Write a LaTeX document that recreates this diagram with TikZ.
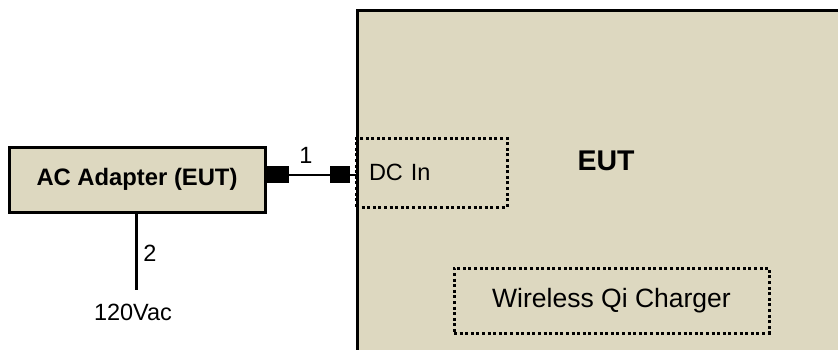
\documentclass[tikz,border=0pt]{standalone}
\usepackage{fontspec}
\setmainfont{Liberation Sans}
\usepackage{xcolor}
\usepackage{tikz}

\definecolor{eutfill}{RGB}{221,216,192}

\begin{document}
\begin{tikzpicture}[x=1pt,y=-1pt,
  box/.style={draw,line width=3pt,fill=eutfill,inner sep=0pt},
  dotbox/.style={draw,line width=3pt,dash pattern=on 3pt off 2.6pt,inner sep=0pt},
  plug/.style={fill=black,inner sep=0pt},
  lbl/.style={font=\fontsize{23.5}{28}\selectfont,inner sep=0pt}]
  \useasboundingbox (0,0) rectangle (838,349);
  \clip (0,0) rectangle (838,349);
  % equipment under test, running off the page
  \node[box,anchor=north west,minimum width=520pt,minimum height=380pt] (eut) at (356,9) {};
  \node[font=\fontsize{28.5}{32}\selectfont\bfseries,inner sep=0pt] (eutlbl) at (606,161) {EUT};
  \node[dotbox,lbl,minimum height=69pt,text width=125pt,inner xsep=13pt,align=left] (dcin) at (431.5,172.5) {DC In};
  \node[dotbox,font=\fontsize{26.5}{30}\selectfont,minimum width=315pt,minimum height=65pt] (charger) at (611.5,300.5) {Wireless Qi Charger};
  % adapter
  \node[box,minimum width=256pt,minimum height=65pt,font=\fontsize{23.8}{28}\selectfont\bfseries] (adapter) at (137,179.5) {AC Adapter (EUT)};
  % cable 1
  \node[plug,minimum width=23pt,minimum height=17pt] (plugA) at (277,174.5) {};
  \node[plug,minimum width=20pt,minimum height=17pt] (plugB) at (340,174.5) {};
  \draw[line width=2pt] (plugA.east) -- (plugB.west);
  \draw[line width=2pt] (plugB.east) -- (plugB.east -| eut.west);
  \node[lbl] (c1) at (306,155) {1};
  % cable 2
  \coordinate (acend) at (136,290);
  \draw[line width=3pt] (adapter.south -| acend) -- (acend);
  \node[lbl] (c2) at (150,253) {2};
  \node[lbl] (ac) at (133,312) {120Vac};
\end{tikzpicture}
\end{document}
